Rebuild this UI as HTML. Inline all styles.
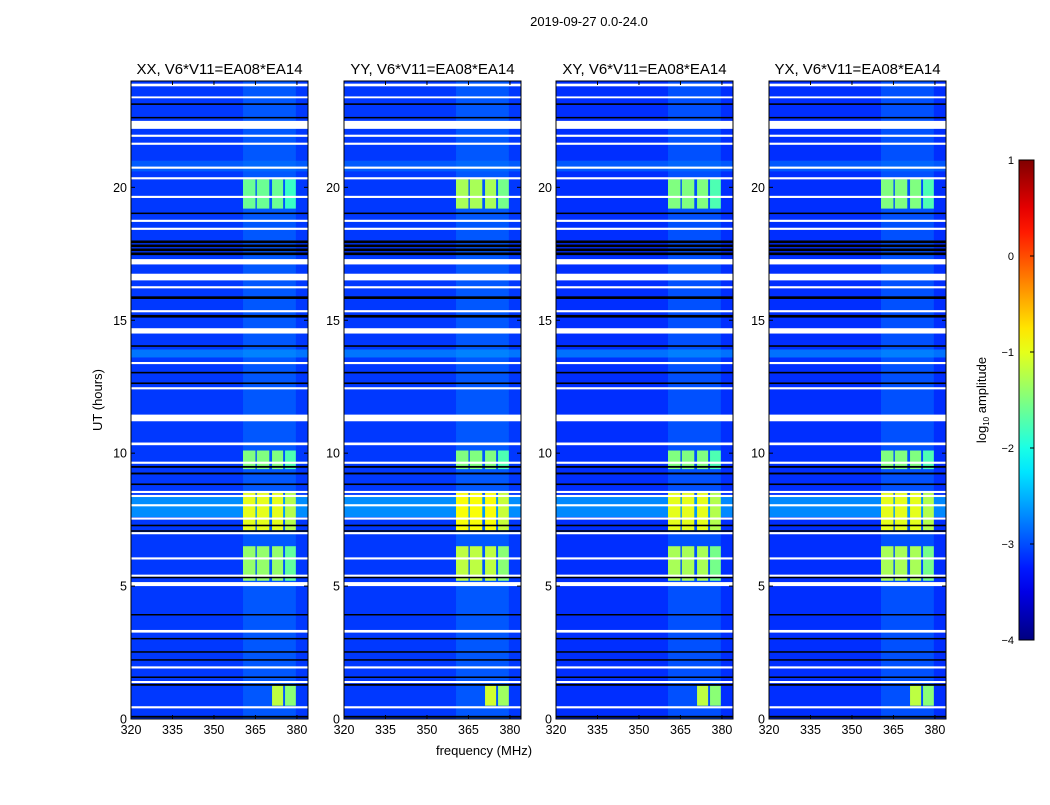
<!DOCTYPE html>
<html><head><meta charset="utf-8"><style>
body{margin:0;background:#fff;font-family:"Liberation Sans",sans-serif}
svg text{font-family:"Liberation Sans",sans-serif}
</style></head><body>
<svg id="fig" width="1050" height="800" xmlns="http://www.w3.org/2000/svg">
<text x="589" y="26" font-size="13" text-anchor="middle">2019-09-27 0.0-24.0</text>
<text x="102" y="400" font-size="13" text-anchor="middle" transform="rotate(-90 102 400)">UT (hours)</text>
<text x="484" y="755" font-size="13" text-anchor="middle">frequency (MHz)</text>
</svg>
<script>
// ---- data ----
const panelTitles = ["XX, V6*V11=EA08*EA14","YY, V6*V11=EA08*EA14","XY, V6*V11=EA08*EA14","YX, V6*V11=EA08*EA14"];
const xTicks = [320,335,350,365,380];
const yTicks = [0,5,10,15,20];
const cbTicks = [1,0,-1,-2,-3,-4];
const baseLevel = [-3.1,-3.1,-3.15,-3.15];
const rfiFreqStart = [360.5,365.5,371,375.7];
const rfiFreqEnd   = [365,370,375,379.6];
const rfiBandLevel = -2.6;
const blockT0 = [19.2,9.4,7.1,5.2,0.5];
const blockT1 = [20.3,10.1,8.5,6.5,1.25];
const blockFirstCol = [0,0,0,0,2];
const blockAmpXX = [-1.6,-1.5,-1.0,-1.4,-1.2];
const blockAmpYY = [-1.3,-1.5,-0.9,-1.2,-1.1];
const blockAmpXY = [-1.5,-1.5,-1.0,-1.3,-1.2];
const blockAmpYX = [-1.5,-1.5,-1.0,-1.3,-1.2];
const brightRowT0 = [13.6,7.6,20.6];
const brightRowT1 = [13.9,8.4,21.0];
const brightRowLevel = [-2.6,-2.4,-2.8];
const whiteT0 = [23.8,23.35,22.2,21.9,21.6,20.7,20.3,19.6,18.7,18.4,17.1,16.5,16.2,15.3,14.5,13.35,12.4,11.2,10.3,9.6,8.5,8.35,8.0,7.5,6.95,6.0,5.35,5.0,3.25,1.9,1.35,0.4];
const whiteT1 = [23.9,23.42,22.5,21.98,21.68,20.78,20.38,19.68,18.78,18.48,17.3,16.75,16.28,15.38,14.7,13.43,12.48,11.45,10.4,9.68,8.58,8.43,8.08,7.58,7.03,6.08,5.43,5.15,3.35,1.98,1.43,0.48];
const blackT0 = [23.1,22.6,19.0,17.45,17.6,17.75,17.9,15.8,15.1,14.0,13.0,12.6,9.45,9.2,8.8,7.25,7.05,5.3,3.9,3.0,2.5,2.2,1.55,1.25,0.05];
const blackT1 = [23.16,22.65,19.05,17.55,17.7,17.85,18.0,15.9,15.2,14.06,13.06,12.66,9.52,9.27,8.86,7.31,7.1,5.35,3.95,3.05,2.55,2.25,1.6,1.32,0.12];
// ---- helpers ----
function jet(v){let t=(v+4)/5;t=Math.max(0,Math.min(1,t));
 const r=Math.min(1,Math.max(0,Math.min(4*t-1.5,-4*t+4.5)));
 const g=Math.min(1,Math.max(0,Math.min(4*t-0.5,-4*t+3.5)));
 const b=Math.min(1,Math.max(0,Math.min(4*t+0.5,-4*t+2.5)));
 return `rgb(${Math.round(r*255)},${Math.round(g*255)},${Math.round(b*255)})`;}
const svg=document.getElementById('fig');const NS="http://www.w3.org/2000/svg";
function el(tag,attrs,parent){const e=document.createElementNS(NS,tag);for(const k in attrs)e.setAttribute(k,attrs[k]);(parent||svg).appendChild(e);return e;}
const panelX=[131,344,556,769],PW=177,PT=81,PB=719;
const fMin=320,fMax=384,tMin=0,tMax=24;
const ampSets=[blockAmpXX,blockAmpYY,blockAmpXY,blockAmpYX];
panelX.forEach((px,p)=>{
 const xs=f=>px+(f-fMin)/(fMax-fMin)*PW;
 const ys=t=>PB-(t-tMin)/(tMax-tMin)*(PB-PT);
 const g=el('g',{});
 
 
 const bg=el('rect',{x:px,y:PT,width:PW,height:PB-PT,fill:jet(baseLevel[p])},g);
 
 
 const band=el('rect',{x:xs(rfiFreqStart[0]),y:PT,width:xs(rfiFreqEnd[3])-xs(rfiFreqStart[0]),height:PB-PT,fill:jet(rfiBandLevel),opacity:0.3},g);
 
 
 brightRowT0.forEach((t0,i)=>{const r=el('rect',{x:px,y:ys(brightRowT1[i]),width:PW,height:ys(t0)-ys(brightRowT1[i]),fill:jet(brightRowLevel[i]),opacity:0.6},g);
  
  });
 blockT0.forEach((t0,i)=>{for(let c=blockFirstCol[i];c<4;c++){
  const r=el('rect',{x:xs(rfiFreqStart[c]),y:ys(blockT1[i]),width:xs(rfiFreqEnd[c])-xs(rfiFreqStart[c]),height:ys(t0)-ys(blockT1[i]),fill:jet(ampSets[p][i]-(c==3?0.25:0))},g);
  
  }});
 whiteT0.forEach((t0,i)=>{const r=el('rect',{x:px,y:ys(whiteT1[i]),width:PW,height:Math.max(1.5,ys(t0)-ys(whiteT1[i])),fill:'#fff'},g);
  
  });
 blackT0.forEach((t0,i)=>{const r=el('rect',{x:px,y:ys(blackT1[i]),width:PW,height:Math.max(1.5,ys(t0)-ys(blackT1[i])),fill:'#000'},g);
  
  });
 el('rect',{x:px,y:PT,width:PW,height:PB-PT,fill:'none',stroke:'#000','stroke-width':1},g);
 const tt=el('text',{x:px+PW/2,y:74,'font-size':15,'text-anchor':'middle'},g);tt.textContent=panelTitles[p];
 
 
 xTicks.forEach(v=>{const x=xs(v);el('line',{x1:x,x2:x,y1:PB,y2:PB-4,stroke:'#000'},g);el('line',{x1:x,x2:x,y1:PT,y2:PT+4,stroke:'#000'},g);
  const t=el('text',{x:x,y:PB+15,'font-size':12.5,'text-anchor':'middle'},g);t.textContent=v;
  
  });
 yTicks.forEach(v=>{const y=ys(v);el('line',{x1:px,x2:px+4,y1:y,y2:y,stroke:'#000'},g);el('line',{x1:px+PW,x2:px+PW-4,y1:y,y2:y,stroke:'#000'},g);
  const t=el('text',{x:px-4,y:y+4.5,'font-size':12.5,'text-anchor':'end'},g);t.textContent=v;
  
  });
});
const cbX=1019,cbW=15,cbT=160,cbB=640;
const defs=el('defs',{});const lg=el('linearGradient',{id:'jetg',x1:0,y1:1,x2:0,y2:0},defs);
for(let i=0;i<=20;i++){el('stop',{offset:(i/20),'stop-color':jet(-4+5*i/20)},lg);}
const cb=el('rect',{x:cbX,y:cbT,width:cbW,height:cbB-cbT,fill:'url(#jetg)',stroke:'#000'});


cbTicks.forEach(v=>{const y=cbB-(v+4)/5*(cbB-cbT);el('line',{x1:cbX+cbW-4,x2:cbX+cbW,y1:y,y2:y,stroke:'#000'});
 const t=el('text',{x:cbX-5,y:y+4,'font-size':11,'text-anchor':'end'});t.textContent=v<0?'\u2212'+(-v):v;
 
 });
const cl=el('text',{x:986,y:400,'font-size':13,'text-anchor':'middle',transform:'rotate(-90 986 400)'});
cl.innerHTML='log<tspan font-size="8" dy="3">10</tspan><tspan dy="-3"> amplitude</tspan>';


</script>
</body></html>
